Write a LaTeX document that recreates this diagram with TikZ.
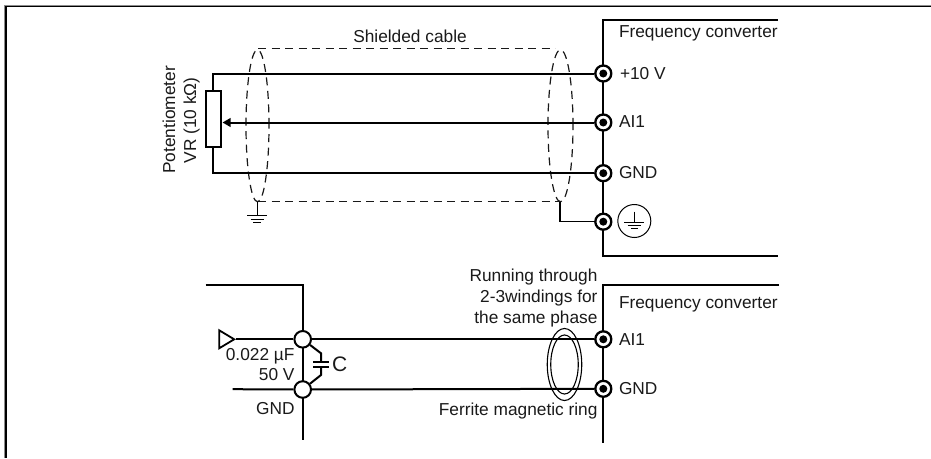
\documentclass[tikz,border=0pt]{standalone}
\usepackage{fontspec}
\setmainfont{Liberation Sans}
\usetikzlibrary{shapes.geometric,arrows.meta}
\definecolor{ink}{HTML}{1A1A1A}
\tikzset{
  wire/.style={line width=2pt,black},
  thinw/.style={line width=1.2pt,black},
  shield/.style={line width=1.2pt,black!90,dash pattern=on 8pt off 5.5pt},
  txt/.style={inner sep=0pt,outer sep=0pt,text=ink,font=\fontsize{17.3}{20}\selectfont,text height=12.4pt,text depth=0pt},
  termring/.style={circle,draw=black,fill=white,line width=2.3pt,minimum size=16pt,inner sep=0pt},
  termdot/.style={circle,fill=black,minimum size=8pt,inner sep=0pt},
  junc/.style={circle,draw=black,fill=white,line width=2pt,minimum size=16.6pt,inner sep=0pt},
  shieldell/.style={ellipse,shield,minimum width=#1,minimum height=152pt,inner sep=0pt},
  ringell/.style={ellipse,draw=black,line width=1.1pt,inner sep=0pt},
}
\newcommand{\terminalat}[2]{\node[termring] (#1) at (#2) {};\node[termdot] (#1d) at (#2) {};}
\begin{document}
\begin{tikzpicture}[x=1pt,y=-1pt]
\useasboundingbox (0,0) rectangle (931,458);
\fill[white] (0,0) rectangle (931,458);
% outer frame
\coordinate (fA) at (4.5,458); \coordinate (fB) at (4.5,5.5); \coordinate (fC) at (931,5.5);
\coordinate (gA) at (6,458); \coordinate (gB) at (6,6.5); \coordinate (gC) at (931,6.5);
\draw[line width=1pt,black!45] (fA) -- (fB) -- (fC);
\draw[line width=1.4pt,black] (gA) -- (gB) -- (gC);
% converter 1 frame
\coordinate (c1a) at (778,19.5); \coordinate (c1b) at (603.3,19.5); \coordinate (c1c) at (603.3,255.7); \coordinate (c1d) at (778,255.7);
\draw[wire] (c1a) -- (c1b) -- (c1c) -- (c1d);
% shield
\node[shieldell=23pt,draw] (eL) at (257.5,125.8) {};
\node[shieldell=25pt,draw] (eR) at (560.5,125.8) {};
\coordinate (sTL) at (258,48.7); \coordinate (sTR) at (555,48.7);
\coordinate (sBL) at (258,201.7); \coordinate (sBR) at (560,201.7);
\draw[shield] (sTL) -- (sTR);
\draw[shield] (sBL) -- (sBR);
% potentiometer
\node[draw=black,fill=white,line width=2pt,minimum width=14.5pt,minimum height=55.5pt,inner sep=0pt] (pot) at (213.7,119.2) {};
\coordinate (wT) at (213.3,73.5);
\coordinate (wB) at (213.3,173.2);
\coordinate (wip) at (222.5,122.5);
% terminals
\terminalat{t1}{603.3,73.5}
\terminalat{t2}{603.3,122.5}
\terminalat{t3}{603.3,173.2}
\terminalat{t4}{603.3,221.7}
\draw[wire] (t1) -- (wT) -- (pot.north -| wT);
\draw[wire] (t3) -- (wB) -- (pot.south -| wB);
\draw[wire,-{Triangle[length=8pt,width=8.5pt]}] (t2) -- (wip);
\coordinate (gnd4) at (560,221.7);
\draw[thinw] (sBR) -- (gnd4) -- (t4);
% left earth
\coordinate (e1) at (257.3,215);
\draw[thinw] (sBL -| e1) -- (e1);
\coordinate (e1a) at (247,215); \coordinate (e1b) at (267,215);
\coordinate (e2a) at (250.7,219); \coordinate (e2b) at (264,219);
\coordinate (e3a) at (253,222.4); \coordinate (e3b) at (261,222.4);
\draw[line width=1pt] (e1a) -- (e1b) (e2a) -- (e2b) (e3a) -- (e3b);
% earth in circle
\node[circle,draw=black,line width=1pt,minimum size=33pt,inner sep=0pt] (pe) at (634.3,221) {};
\coordinate (pa) at (634.3,211.5); \coordinate (pb) at (634.3,222.5);
\coordinate (p1a) at (624,222.5); \coordinate (p1b) at (644,222.5);
\coordinate (p2a) at (627.5,225.8); \coordinate (p2b) at (641,225.8);
\coordinate (p3a) at (631,228.6); \coordinate (p3b) at (637.5,228.6);
\draw[line width=.9pt] (pa) -- (pb) (p1a) -- (p1b) (p2a) -- (p2b) (p3a) -- (p3b);
% texts top
\node[txt] (shl) at (410,36) {Shielded cable};
\node[txt,rotate=90] (pm) at (169,120) {Potentiometer};
\node[txt,rotate=90] (vr) at (190,120.5) {VR (10 k\symbol{"03A9})};
\node[txt,anchor=west] (fc1) at (619,31.7) {Frequency converter};
\node[txt,anchor=west] (l1) at (620,73.5) {+10 V};
\node[txt,anchor=west] (l2) at (619,121.5) {AI1};
\node[txt,anchor=west] (l3) at (619,172.5) {GND};
% bottom section
\coordinate (c2a) at (779,285.3); \coordinate (c2b) at (603.3,285.3); \coordinate (c2c) at (603.3,443);
\draw[wire] (c2a) -- (c2b) -- (c2c);
\coordinate (ba) at (205.7,285); \coordinate (bb) at (302.7,285); \coordinate (bc) at (302.7,440);
\draw[wire] (ba) -- (bb) -- (bc);
\terminalat{t5}{603.3,339.3}
\terminalat{t6}{603.3,388.8}
\node[junc] (j1) at (302.7,339.3) {};
\node[junc] (j2) at (302.7,389.5) {};
\node[draw=black,line width=1.8pt,isosceles triangle,isosceles triangle apex angle=62,minimum height=15pt,minimum width=18pt,inner sep=0pt,fill=white] (tri) at (224.3,339.3) {};
\draw[wire] (tri.apex) -- (j1);
\draw[wire] (j1) -- (t5);
\coordinate (g0) at (232.7,389.2);
\draw[wire] (g0) -- (j2);
\draw[wire] (j2) -- (t6);
% capacitor
\coordinate (cA) at (321,353.3); \coordinate (cT) at (321,361.8);
\coordinate (cB) at (321,375); \coordinate (cU) at (321,366.8);
\coordinate (cT1) at (313.3,361.8); \coordinate (cT2) at (328.5,361.8);
\coordinate (cU1) at (313.3,366.8); \coordinate (cU2) at (328.5,366.8);
\draw[wire] (j1) -- (cA) -- (cT);
\draw[wire] (j2) -- (cB) -- (cU);
\draw[wire] (cT1) -- (cT2);
\draw[wire] (cU1) -- (cU2);
% ferrite ring
\node[ringell,minimum width=34.5pt,minimum height=72pt] (r1) at (564.5,364.5) {};
\node[ringell,minimum width=27.5pt,minimum height=59pt] (r2) at (564.5,364.5) {};
% texts bottom
\node[txt,anchor=east] (v1) at (294.5,354.5) {0.022 µF};
\node[txt,anchor=east] (v2) at (294.5,374.5) {50 V};
\node[txt,anchor=east] (v3) at (294.5,408.5) {GND};
\node[txt,anchor=west,font=\fontsize{21}{24}\selectfont,text height=15pt] (cl) at (332,364.3) {C};
\node[txt,anchor=east] (n1) at (597.5,275) {Running through};
\node[txt,anchor=east] (n2) at (597.5,296.7) {2-3windings for};
\node[txt,anchor=east] (n3) at (597.5,317) {the same phase};
\node[txt,anchor=east] (n4) at (597.5,409.7) {Ferrite magnetic ring};
\node[txt,anchor=west] (fc2) at (619,302.5) {Frequency converter};
\node[txt,anchor=west] (l5) at (619,339.5) {AI1};
\node[txt,anchor=west] (l6) at (619,388.5) {GND};
\end{tikzpicture}
\end{document}
